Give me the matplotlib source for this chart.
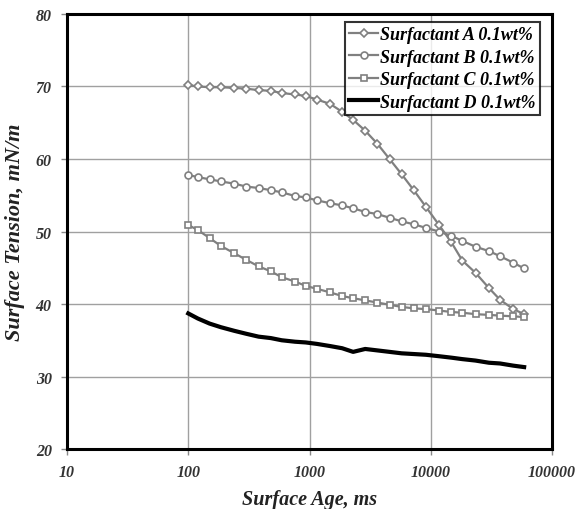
import matplotlib
matplotlib.use("Agg")
import matplotlib.pyplot as plt
from matplotlib.ticker import FixedLocator, FixedFormatter, NullLocator

# surface age (ms)
ages = [100, 120, 150, 186, 240, 300, 380, 480, 590, 760, 930, 1150, 1480,
        1860, 2290, 2880, 3630, 4570, 5750, 7240, 9120, 11700, 14800, 18200,
        23400, 30200, 37200, 47900, 58900]

tension_a = [70.2, 70.0, 69.9, 69.9, 69.8, 69.7, 69.5, 69.4, 69.1, 68.9, 68.7,
             68.2, 67.6, 66.5, 65.4, 63.9, 62.1, 60.0, 57.9, 55.7, 53.4, 50.9,
             48.5, 46.0, 44.3, 42.2, 40.6, 39.3, 38.6]
tension_b = [57.8, 57.5, 57.2, 56.9, 56.6, 56.2, 56.0, 55.7, 55.4, 54.9, 54.7,
             54.3, 53.9, 53.6, 53.2, 52.7, 52.4, 51.9, 51.4, 51.0, 50.5, 50.0,
             49.4, 48.7, 47.9, 47.3, 46.6, 45.7, 44.9]
tension_c = [50.9, 50.2, 49.1, 48.0, 47.0, 46.1, 45.2, 44.5, 43.7, 43.1, 42.5,
             42.1, 41.6, 41.1, 40.8, 40.5, 40.2, 39.9, 39.6, 39.4, 39.3, 39.1,
             38.9, 38.8, 38.6, 38.5, 38.4, 38.3, 38.2]
tension_d = [38.7, 38.0, 37.3, 36.8, 36.3, 35.9, 35.5, 35.3, 35.0, 34.8, 34.7,
             34.5, 34.2, 33.9, 33.4, 33.8, 33.6, 33.4, 33.2, 33.1, 33.0, 32.8,
             32.6, 32.4, 32.2, 31.9, 31.8, 31.5, 31.3]

labels = ["Surfactant A 0.1wt%", "Surfactant B 0.1wt%",
          "Surfactant C 0.1wt%", "Surfactant D 0.1wt%"]
x_ticks = [10, 100, 1000, 10000, 100000]
y_ticks = [20, 30, 40, 50, 60, 70, 80]

serif = "Liberation Serif"
gray = "#808080"

fig = plt.figure(figsize=(5.79, 5.10), dpi=100)
ax = fig.add_axes([0.1157, 0.1176, 0.8377, 0.8530])

common = dict(color=gray, lw=1.6, markerfacecolor="white",
              markeredgecolor=gray, markeredgewidth=1.2)
ax.plot(ages, tension_a, marker="D", ms=4.2, label=labels[0], **common)
ax.plot(ages, tension_b, marker="o", ms=5, label=labels[1], **common)
ax.plot(ages, tension_c, marker="s", ms=5, label=labels[2], **common)
ax.plot(ages, tension_d, color="black", lw=3, label=labels[3])

ax.set_xscale("log")
ax.set_xlim(10, 100000)
ax.set_ylim(20, 80)
ax.xaxis.set_major_locator(FixedLocator(x_ticks))
ax.xaxis.set_major_formatter(FixedFormatter([str(v) for v in x_ticks]))
ax.xaxis.set_minor_locator(NullLocator())
ax.set_yticks(y_ticks)

ax.grid(True, color="#a0a0a0", lw=1)
ax.set_axisbelow(True)
for s in ax.spines.values():
    s.set_linewidth(2.2)
    s.set_color("black")

ax.tick_params(length=4, width=1, color="#888888", pad=7)
for t in ax.get_xticklabels() + ax.get_yticklabels():
    t.set_fontfamily(serif)
    t.set_fontweight("bold")
    t.set_fontstyle("italic")
    t.set_fontsize(11.5)
    t.set_color("#333333")

ax.set_xlabel("Surface Age, ms", fontfamily=serif, fontweight="bold",
              fontstyle="italic", fontsize=14.5, color="#222222", labelpad=6)
ax.set_ylabel("Surface Tension, mN/m", fontfamily=serif, fontweight="bold",
              fontstyle="italic", fontsize=16, color="#222222", labelpad=8)

leg = ax.legend(loc="upper right", bbox_to_anchor=(0.975, 0.982),
                prop=dict(family=serif, weight="bold", style="italic", size=13),
                frameon=True, fancybox=False, edgecolor="black",
                borderpad=0.25, labelspacing=0.3, handlelength=1.6,
                handletextpad=0.1, borderaxespad=0)
leg.get_frame().set_linewidth(1.5)

fig.savefig("out.png", dpi=100)
